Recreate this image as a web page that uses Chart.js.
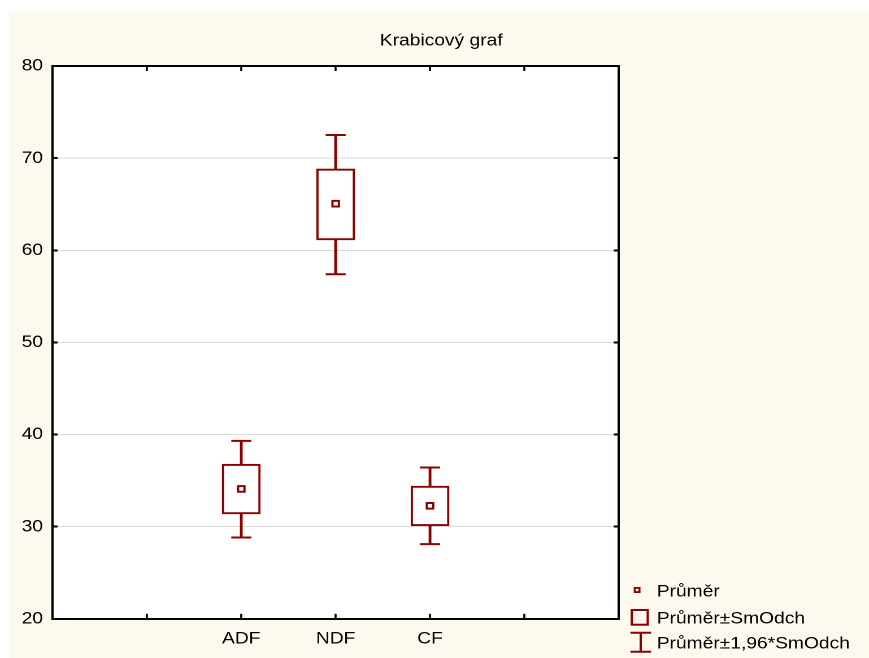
<!DOCTYPE html>
<html>
<head>
<meta charset="utf-8">
<script src="https://cdn.jsdelivr.net/npm/chart.js@4.4.0/dist/chart.umd.min.js"></script>
<style>
  html, body { margin: 0; padding: 0; background: #ffffff; width: 869px; height: 658px; overflow: hidden; }
  #c { position: absolute; left: 9px; top: 12px; background: #fdf9ee; }
</style>
</head>
<body>
<canvas id="c" width="761" height="646" style="width:860px;height:646px;"></canvas>
<script>
// ---- data ----
const titleText = 'Krabicový graf';
const xAxisLabels = ['', '', 'ADF', 'NDF', 'CF', '', ''];
const categories = ['ADF', 'NDF', 'CF'];
const means  = [34.10, 65.06, 32.26];   // Průměr
const sdLow  = [31.39, 61.12, 30.10];   // Průměr - SmOdch
const sdHigh = [36.78, 68.82, 34.40];   // Průměr + SmOdch
const ciLow  = [28.82, 57.40, 28.10];   // Průměr - 1,96*SmOdch
const ciHigh = [39.31, 72.51, 36.42];   // Průměr + 1,96*SmOdch
const yTicks = [20, 30, 40, 50, 60, 70, 80];
const legendLabels = ['Průměr', 'Průměr±SmOdch', 'Průměr±1,96*SmOdch'];

// ---- styling ----
const RED = '#8b0000';
const FAMILY = '"Liberation Sans", Arial, Helvetica, sans-serif';
const FONT = { family: FAMILY, size: 17, weight: 'normal' };
Chart.defaults.font.family = FAMILY;
Chart.defaults.font.size = 17;
Chart.defaults.color = '#000';

const whiskerData = categories.map((c, i) => ({ x: c, y: [ciLow[i], ciHigh[i]] }));
const boxData = categories.map((c, i) => ({ x: c, y: [sdLow[i], sdHigh[i]] }));
const capData = categories.map((c, i) => ({ x: c, y: ciLow[i] }))
  .concat(categories.map((c, i) => ({ x: c, y: ciHigh[i] })));
const meanData = categories.map((c, i) => ({ x: c, y: means[i] }));

const plotBackground = {
  id: 'plotBackground',
  beforeDraw(chart) {
    const { ctx, chartArea: a } = chart;
    ctx.save();
    ctx.fillStyle = '#ffffff';
    ctx.fillRect(a.left, a.top, a.right - a.left, a.bottom - a.top);
    ctx.restore();
  }
};

const legendPlugin = {
  id: 'boxLegend',
  afterDraw(chart) {
    const ctx = chart.ctx;
    const r = chart.chartArea.right;
    ctx.save();
    ctx.strokeStyle = RED;
    ctx.fillStyle = '#000';
    ctx.font = '17px ' + FAMILY;
    ctx.textBaseline = 'alphabetic';
    ctx.textAlign = 'left';
    const tx = r + 33.6;
    // item 1: mean marker
    ctx.lineWidth = 1.8;
    ctx.strokeRect(r + 16.2 - 2.1, 578 - 2.1, 4.2, 4.2);
    ctx.fillText(legendLabels[0], tx, 584.7);
    // item 2: box
    ctx.lineWidth = 2;
    ctx.strokeRect(r + 11.5, 598, 14.1, 14.7);
    ctx.fillText(legendLabels[1], tx, 611.3);
    // item 3: whisker
    const cx = r + 19.4;
    ctx.beginPath();
    ctx.moveTo(cx, 620.7); ctx.lineTo(cx, 639.7);
    ctx.moveTo(cx - 9.1, 620.7); ctx.lineTo(cx + 9.1, 620.7);
    ctx.moveTo(cx - 9.1, 639.7); ctx.lineTo(cx + 9.1, 639.7);
    ctx.stroke();
    ctx.fillText(legendLabels[2], tx, 636.3);
    ctx.restore();
  }
};

const xGrid = { offset: false, drawOnChartArea: false, drawTicks: true, tickLength: -5, tickColor: '#000', tickWidth: 1.8 };
const yGridTicks = { tickLength: -4.5, tickColor: '#000', tickWidth: 2 };

new Chart(document.getElementById('c'), {
  type: 'bar',
  data: {
    datasets: [
      { type: 'bar', label: legendLabels[2], data: whiskerData, xAxisID: 'x', yAxisID: 'y',
        backgroundColor: RED, borderWidth: 0, barThickness: 1.8, grouped: false, order: 4 },
      { type: 'scatter', label: 'caps', data: capData, xAxisID: 'x', yAxisID: 'y',
        pointStyle: 'line', pointRadius: 8.85, borderColor: RED, borderWidth: 2, order: 3 },
      { type: 'bar', label: legendLabels[1], data: boxData, xAxisID: 'x', yAxisID: 'y',
        backgroundColor: '#ffffff', borderColor: RED, borderWidth: 2, borderSkipped: false,
        barThickness: 33.6, grouped: false, order: 2 },
      { type: 'scatter', label: legendLabels[0], data: meanData, xAxisID: 'x', yAxisID: 'y',
        pointStyle: 'rect', pointRadius: 4, borderColor: RED, backgroundColor: '#ffffff', borderWidth: 2, order: 1 }
    ]
  },
  options: {
    responsive: false,
    devicePixelRatio: 2,
    animation: false,
    events: [],
    layout: { padding: { left: 4, right: 0, top: 0, bottom: 0 } },
    plugins: {
      legend: { display: false },
      tooltip: { enabled: false },
      title: { display: true, text: titleText, color: '#000', font: FONT, padding: { top: 18.8, bottom: 14.8 } }
    },
    scales: {
      x: {
        type: 'category', labels: xAxisLabels, position: 'bottom', offset: false,
        grid: xGrid, border: { color: '#000', width: 2 },
        ticks: { padding: 15, autoSkip: false, maxRotation: 0, color: '#000', font: FONT },
        afterFit: s => { s.height = 39.2; }
      },
      x2: {
        type: 'category', labels: xAxisLabels, position: 'top', offset: false, display: true,
        grid: xGrid, border: { color: '#000', width: 2 },
        ticks: { display: false },
        afterFit: s => { s.height = 0; }
      },
      y: {
        type: 'linear', min: 20, max: 80, position: 'left',
        afterBuildTicks: s => { s.ticks = yTicks.map(v => ({ value: v })); },
        ticks: { padding: 12.9, color: '#000', font: FONT },
        grid: Object.assign({
          color: c => (c.tick && (c.tick.value === 20 || c.tick.value === 80)) ? 'rgba(0,0,0,0)' : '#d9d9d9',
          lineWidth: 1
        }, yGridTicks),
        border: { color: '#000', width: 2 },
        afterFit: s => { s.width = 34.5; }
      },
      y2: {
        type: 'linear', min: 20, max: 80, position: 'right', display: true,
        afterBuildTicks: s => { s.ticks = yTicks.map(v => ({ value: v })); },
        ticks: { display: false },
        grid: Object.assign({ drawOnChartArea: false }, yGridTicks),
        border: { color: '#000', width: 2 },
        afterFit: s => { s.width = 221.4; }
      }
    }
  },
  plugins: [plotBackground, legendPlugin]
});
</script>
</body>
</html>
